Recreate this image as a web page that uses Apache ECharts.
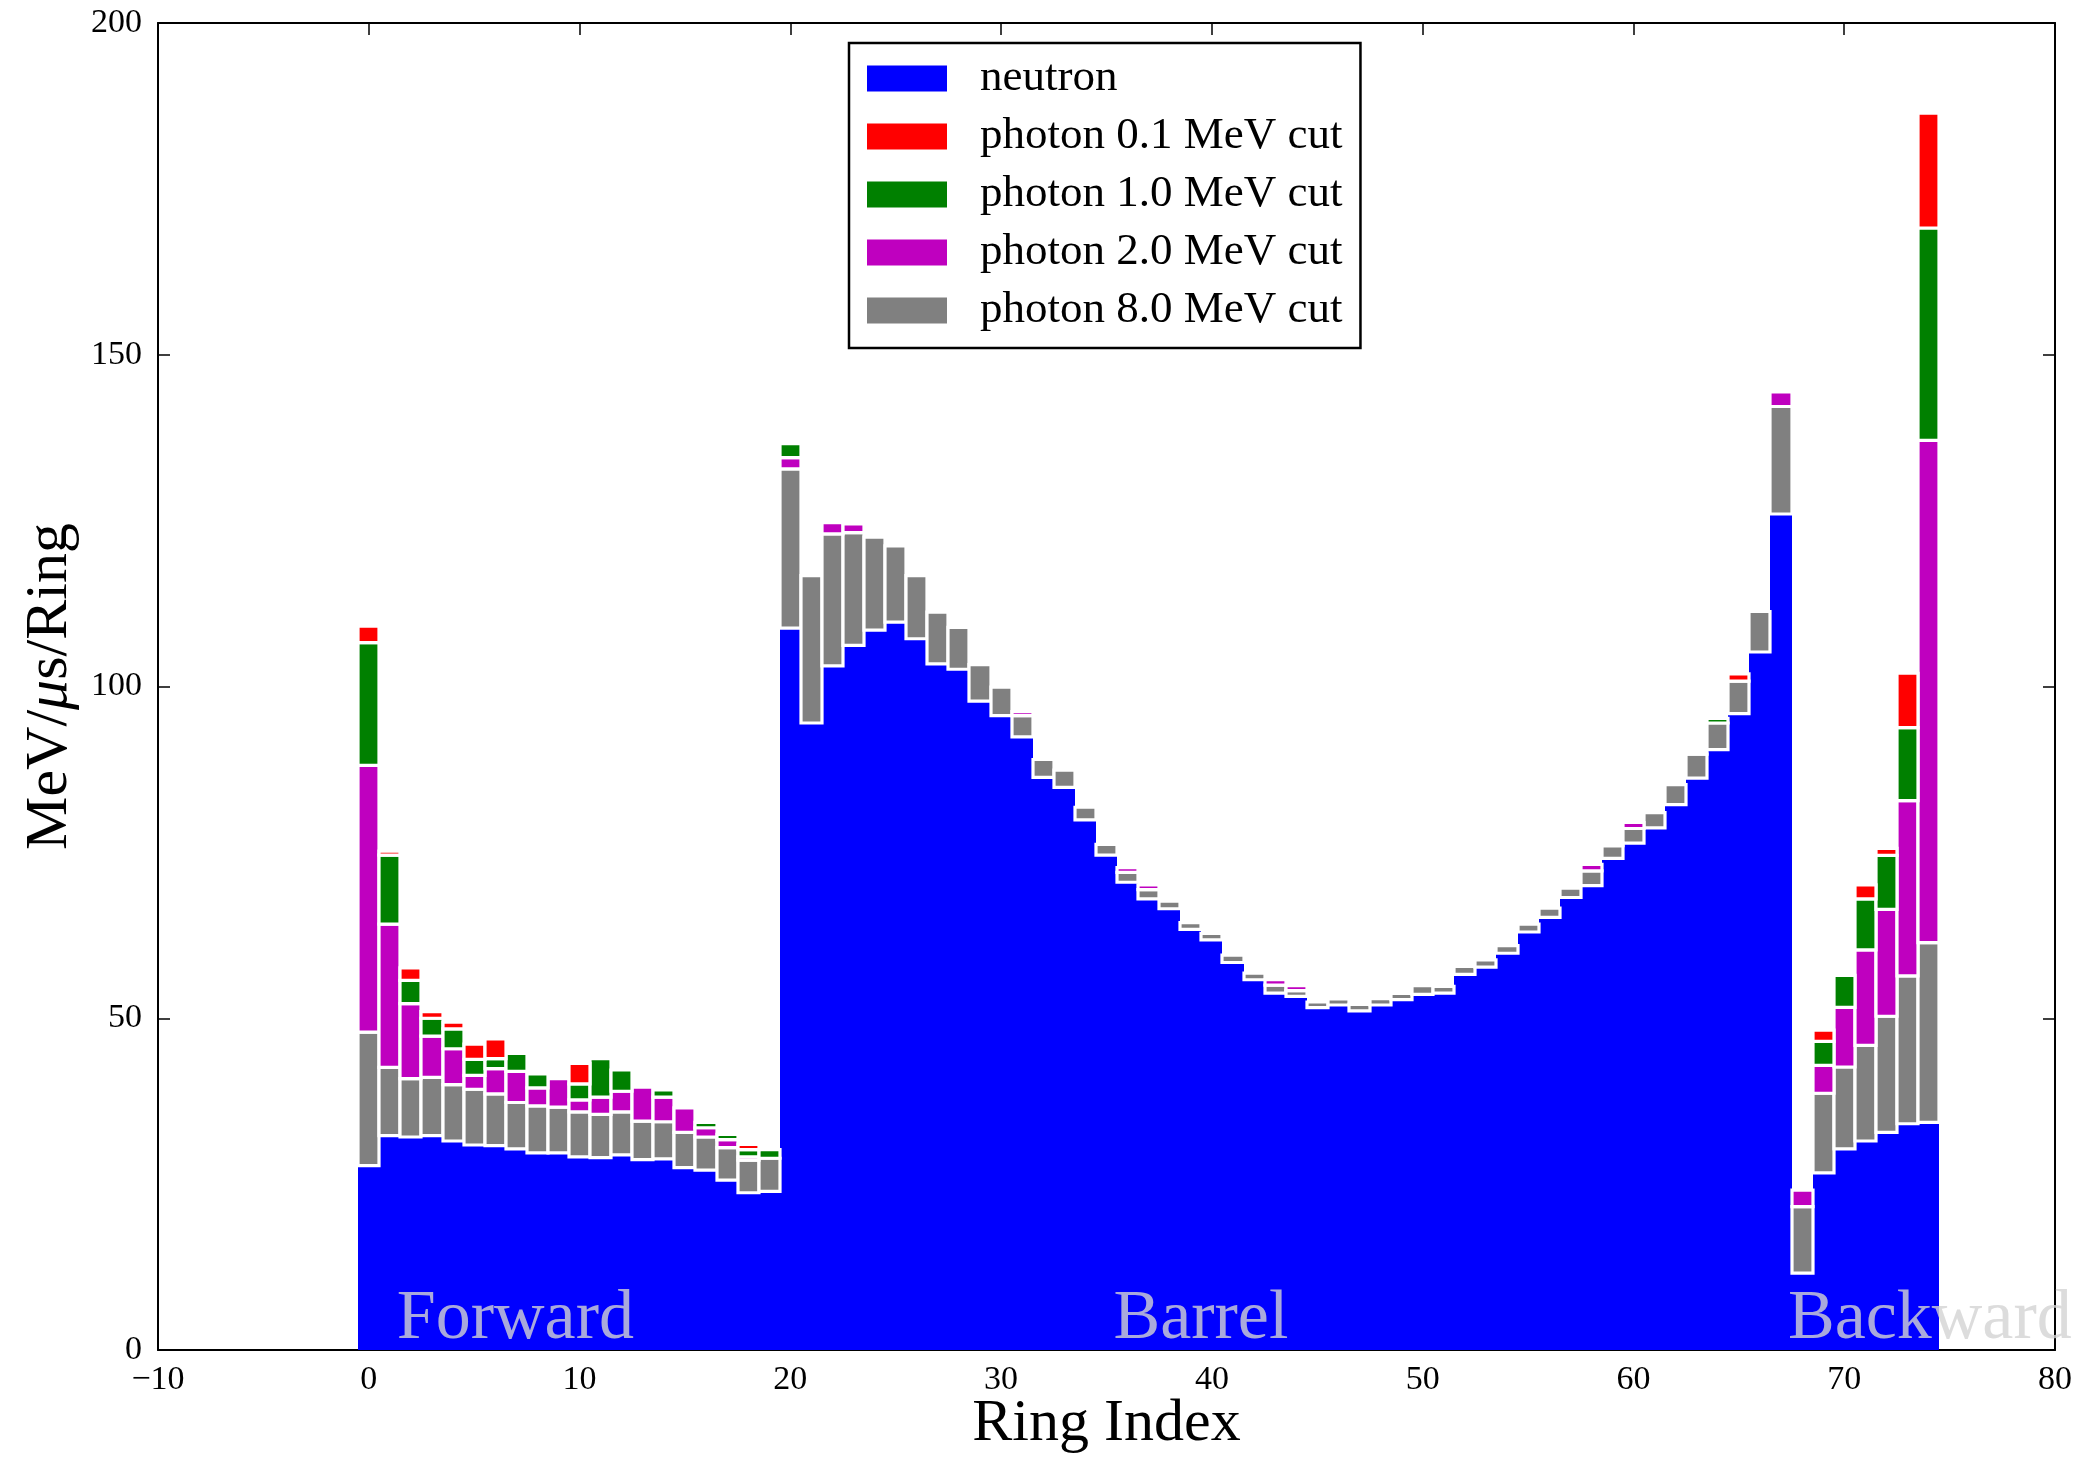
<!DOCTYPE html>
<html>
<head>
<meta charset="utf-8">
<script src="https://cdn.jsdelivr.net/npm/echarts@6/dist/echarts.min.js"></script>
<style>
html,body{margin:0;padding:0;background:#fff;}
#chart{width:2083px;height:1457px;}
</style>
</head>
<body>
<div id="chart"></div>
<script>
// ---- data (MeV/us/Ring per ring, stacked segments) ----
const ring = [0,1,2,3,4,5,6,7,8,9,10,11,12,13,14,15,16,17,18,19,
  20,21,22,23,24,25,26,27,28,29,30,31,32,33,34,35,36,37,38,39,
  40,41,42,43,44,45,46,47,48,49,50,51,52,53,54,55,56,57,58,59,
  60,61,62,63,64,65,66,67,68,69,70,71,72,73,74];

const neutron = [27.8,32.3,32.1,32.3,31.5,30.9,30.8,30.3,29.7,29.7,
  29.1,29.0,29.4,28.7,28.8,27.5,27.1,25.6,23.7,23.9,
  108.8,94.5,103.1,106.2,108.5,109.7,107.2,103.4,102.6,97.8,
  95.6,92.4,86.3,84.8,79.9,74.6,70.5,68.0,66.5,63.4,
  61.8,58.4,55.8,53.8,53.3,51.6,52.0,51.1,52.0,52.8,
  53.6,53.8,56.6,57.7,59.8,63.0,65.2,68.2,70.0,74.1,
  76.4,78.7,82.2,86.2,90.5,95.9,105.2,126.0,11.6,26.7,
  30.3,31.5,32.8,34.1,34.3];

const photon8 = [20.1,10.3,8.8,8.8,8.5,8.4,7.8,7.0,7.1,6.9,
  6.8,6.5,6.5,5.8,5.6,5.3,5.0,4.9,4.9,5.0,
  24.0,22.2,19.9,17.0,14.0,11.5,9.5,7.8,6.3,5.5,
  4.3,3.2,2.7,2.6,1.9,1.6,1.5,1.4,1.15,1.0,
  1.0,1.1,1.0,1.2,0.85,0.85,0.9,1.0,0.95,0.95,
  1.3,1.0,1.2,1.1,1.15,1.2,1.4,1.4,2.2,1.9,
  2.2,2.3,3.0,3.6,4.0,4.9,6.1,16.2,10.0,12.0,
  12.35,14.4,17.5,22.3,27.1];

const photon2 = [40.2,21.6,11.3,6.2,5.4,2.1,3.8,4.7,2.7,4.3,
  1.8,2.6,3.1,5.1,3.7,3.7,1.4,1.2,0.5,0,
  1.7,0,1.7,1.3,0,0,0,0,0,0,
  0,0.6,0,0,0,0,0.7,0.7,0,0,
  0,0,0,0.8,0.75,0,0,0,0,0,
  0,0,0,0,0,0,0,0,1.0,0.4,
  0.9,0,0,0,0,0,0,2.2,2.5,4.2,
  9.0,14.4,16.1,26.4,75.7];

const photon1 = [18.5,10.4,3.5,2.7,3.0,2.4,1.5,2.7,2.1,0,
  2.4,5.8,3.2,0,1.1,0,0.8,0.8,1.1,1.3,
  2.1,0,0,0,0,0,0,0,0,0,
  0,0,0,0,0,0,0,0,0,0,
  0,0,0,0,0,0,0,0,0,0,
  0,0,0,0,0,0,0,0,0,0,
  0,0,0,0.3,0.7,0,0,0,0,3.6,
  4.8,7.7,8.15,11.0,32.0];

const photon01 = [2.5,0.6,1.9,1.0,1.0,2.3,3.0,0,0,0,
  3.1,0,0,0,0,0,0,0,0.8,0,
  0,0,0,0,0,0,0,0,0,0,
  0,0,0,0,0,0,0,0,0,0,
  0,0,0,0,0,0,0,0,0,0,
  0,0,0,0,0,0,0,0,0,0,
  0,0,0,0,0,1.1,0,0,0,1.7,
  0,2.1,1.05,8.2,17.3];

const xTicks = [-10, 0, 10, 20, 30, 40, 50, 60, 70, 80];
const yTicks = [0, 50, 100, 150, 200];

const regionNames = ['Forward', 'Barrel', 'Backward'];
const regionX = [1.33, 35.33, 67.33];
const regionY = 4.6;

// ---- layout ----
const FONT = "'Liberation Serif', 'DejaVu Serif', serif";
const W = 2083, H = 1457;
const G = {left: 158, right: 28, top: 23, bottom: 107};
const xMin = xTicks[0], xMax = xTicks[xTicks.length - 1];
const tickStep = xTicks[1] - xTicks[0];
const EDGE = 3.2; // white bar edge width (px)
const X_TITLE_GAP = 74; // axis line to centre of x-axis title

// stacking order (bottom -> top) and cumulative bases built from the arrays
const layers = [
  {name: 'neutron', color: '#0000ff', vals: neutron, edge: false},
  {name: 'photon 8.0 MeV cut', color: '#808080', vals: photon8, edge: true},
  {name: 'photon 2.0 MeV cut', color: '#bf00bf', vals: photon2, edge: true},
  {name: 'photon 1.0 MeV cut', color: '#008000', vals: photon1, edge: true},
  {name: 'photon 0.1 MeV cut', color: '#ff0000', vals: photon01, edge: true}
];
let running = ring.map(() => 0);
layers.forEach(L => {
  L.base = running.slice();
  running = running.map((b, i) => b + L.vals[i]);
});

function layerSeries(L) {
  return {
    name: L.name, type: 'custom', coordinateSystem: 'cartesian2d',
    xAxisIndex: 0, yAxisIndex: 0,
    itemStyle: {color: L.color},
    encode: {x: 0, y: 1},
    data: ring.map((r, i) => [r, L.base[i] + L.vals[i], L.base[i], L.vals[i]]),
    renderItem: function (params, api) {
      const x = api.value(0), top = api.value(1), bot = api.value(2), v = api.value(3);
      if (!(v > 0)) return null;
      const pTop = api.coord([x - 0.5, top]);
      const pBot = api.coord([x + 0.5, bot]);
      const x0 = Math.round(pTop[0]), x1 = Math.round(pBot[0]);
      return {
        type: 'rect',
        shape: {x: x0, y: pTop[1], width: x1 - x0, height: pBot[1] - pTop[1]},
        style: L.edge ? {fill: L.color, stroke: '#ffffff', lineWidth: EDGE}
                      : {fill: L.color, stroke: null, lineWidth: 0}
      };
    }
  };
}

const chart = echarts.init(document.getElementById('chart'), null, {renderer: 'canvas'});

function fmtX(v) { return v < 0 ? '\u2212' + Math.abs(v) : String(v); }

const lineStyle = {show: true, onZero: false, lineStyle: {color: '#000', width: 2}};
const tickStyle = {show: true, inside: true, length: 12, lineStyle: {color: '#000', width: 1.5}};

const option = {
  animation: false,
  backgroundColor: '#ffffff',
  grid: {left: G.left, right: G.right, top: G.top, bottom: G.bottom, containLabel: false, outerBoundsMode: 'none'},
  graphic: [{
    type: 'text', silent: true,
    x: G.left + (W - G.left - G.right) / 2,
    y: H - G.bottom + X_TITLE_GAP,
    style: {text: 'Ring Index', fontFamily: FONT, fontSize: 60, fill: '#000',
      textAlign: 'center', textVerticalAlign: 'middle', verticalAlign: 'middle', align: 'center'}
  }],
  legend: {
    data: ['neutron', 'photon 0.1 MeV cut', 'photon 1.0 MeV cut', 'photon 2.0 MeV cut', 'photon 8.0 MeV cut'],
    orient: 'vertical',
    left: 849, top: 43,
    padding: [13, 18, 15, 18],
    itemGap: 13,
    itemWidth: 80, itemHeight: 26,
    icon: 'rect',
    selectedMode: false,
    itemStyle: {borderWidth: 0},
    borderColor: '#000', borderWidth: 2.5, borderRadius: 0,
    backgroundColor: '#fff',
    textStyle: {fontFamily: FONT, fontSize: 45, color: '#000', padding: [0, 0, 0, 28], lineHeight: 45}
  },
  xAxis: [
    {
      type: 'value', position: 'bottom', min: xMin, max: xMax, interval: tickStep,
      axisLine: lineStyle, axisTick: tickStyle,
      axisLabel: {show: true, margin: 13, fontFamily: FONT, fontSize: 34, color: '#000', formatter: fmtX},
      splitLine: {show: false}
    },
    {
      type: 'value', position: 'top', min: xMin, max: xMax, interval: tickStep,
      axisLine: lineStyle, axisTick: tickStyle, axisLabel: {show: false}, splitLine: {show: false}
    }
  ],
  yAxis: [
    {
      type: 'value', position: 'left', min: yTicks[0], max: yTicks[yTicks.length - 1], interval: yTicks[1] - yTicks[0],
      name: 'MeV/{i|\u03bc}s/Ring', nameLocation: 'middle', nameGap: 78, nameMoveOverlap: false,
      nameTextStyle: {fontFamily: FONT, fontSize: 60, color: '#000',
        rich: {i: {fontFamily: FONT, fontSize: 60, fontStyle: 'italic', color: '#000'}}},
      axisLine: lineStyle, axisTick: tickStyle,
      axisLabel: {show: true, margin: 16, fontFamily: FONT, fontSize: 34, color: '#000'},
      splitLine: {show: false}
    },
    {
      type: 'value', position: 'right', min: yTicks[0], max: yTicks[yTicks.length - 1], interval: yTicks[1] - yTicks[0],
      axisLine: lineStyle, axisTick: tickStyle, axisLabel: {show: false}, splitLine: {show: false}
    }
  ],
  series: layers.map(layerSeries).concat([{
    name: 'regions', type: 'scatter', xAxisIndex: 0, yAxisIndex: 0,
    symbolSize: 0, silent: true, z: 10,
    data: regionNames.map((n, i) => ({value: [regionX[i], regionY], name: n})),
    label: {show: true, position: 'right', distance: 0, formatter: '{b}',
      fontFamily: FONT, fontSize: 70, color: '#d3d3d3'}
  }])
};

chart.setOption(option);
</script>
</body>
</html>
